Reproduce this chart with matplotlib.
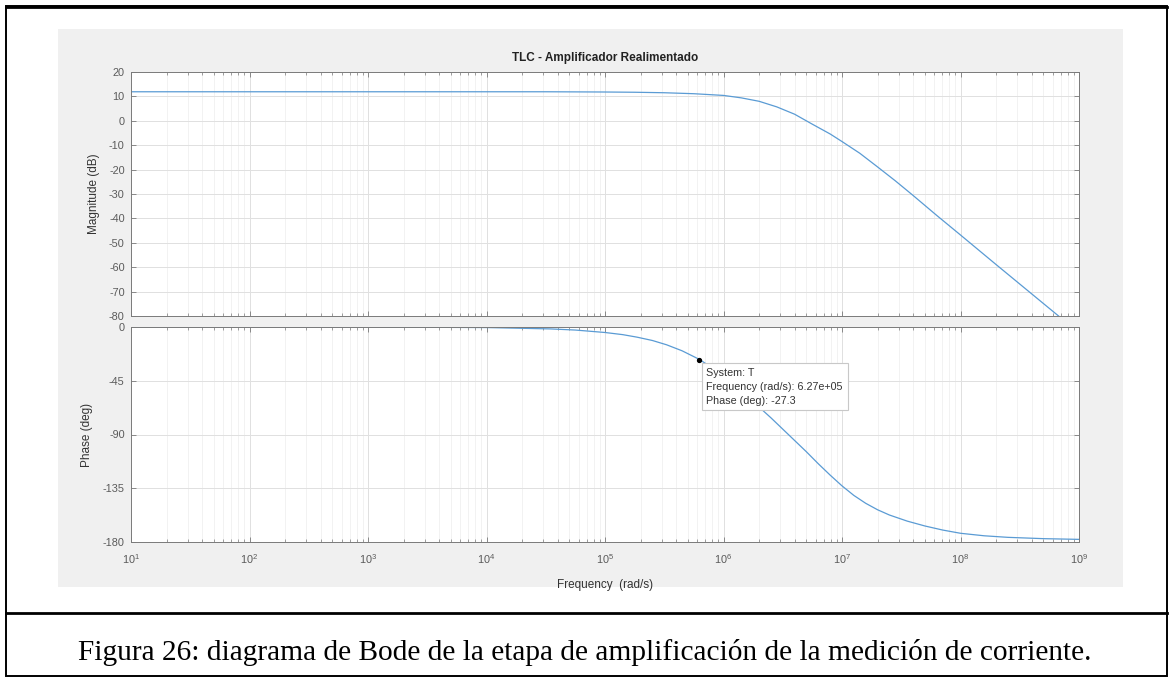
import matplotlib
matplotlib.use('Agg')
import matplotlib.pyplot as plt
import numpy as np
from matplotlib.patches import Rectangle
from matplotlib.lines import Line2D
from matplotlib.ticker import LogLocator, FuncFormatter, NullFormatter

plt.rcParams['font.family'] = ['Liberation Sans', 'DejaVu Sans']
plt.rcParams['mathtext.fontset'] = 'custom'
plt.rcParams['mathtext.rm'] = 'Liberation Sans'
plt.rcParams['mathtext.it'] = 'Liberation Sans:italic'
plt.rcParams['mathtext.bf'] = 'Liberation Sans:bold'
plt.rcParams['axes.unicode_minus'] = False

# ---------------- data ----------------
title = "TLC - Amplificador Realimentado"
caption = "Figura 26: diagrama de Bode de la etapa de amplificación de la medición de corriente."
xlabel = "Frequency  (rad/s)"
mag_label = "Magnitude (dB)"
phase_label = "Phase (deg)"

# log10 of frequency (rad/s) and magnitude (dB)
mag_logw = [1.0, 4.0, 4.5, 5.0, 5.25, 5.5, 5.75, 6.0, 6.15, 6.3, 6.45, 6.6, 6.75,
            6.9, 7.0, 7.15, 7.3, 7.45, 7.6, 7.8, 8.0, 8.3, 8.6, 8.83, 9.0]
mag_db = [11.9, 11.9, 11.9, 11.8, 11.7, 11.5, 11.1, 10.4, 9.4, 8.0, 5.7, 2.7, -1.4,
          -5.4, -8.5, -13.3, -18.9, -24.6, -30.6, -38.8, -46.8, -58.9, -70.9, -80.1, -86.9]

# log10 of frequency (rad/s) and phase (deg)
ph_logw = [1.0, 3.0, 4.0, 4.54, 4.75, 5.0, 5.15, 5.27, 5.4, 5.52, 5.65, 5.8, 5.9,
           6.0, 6.1, 6.2, 6.3, 6.4, 6.5, 6.6, 6.7, 6.8, 6.9, 7.0, 7.1, 7.2, 7.3,
           7.4, 7.55, 7.7, 7.85, 8.0, 8.2, 8.4, 8.7, 9.0]
ph_deg = [0.0, -0.05, -0.45, -1.6, -2.55, -4.6, -6.4, -8.5, -11.3, -14.9, -19.9, -27.3, -34.0,
          -41.0, -49.5, -58.0, -67.0, -76.0, -85.5, -95.0, -104.5, -114.5, -124.0, -133.0, -141.0, -147.6, -153.0,
          -157.4, -162.5, -166.6, -170.0, -172.7, -174.8, -176.1, -177.2, -177.8]

mag_ticks = [20, 10, 0, -10, -20, -30, -40, -50, -60, -70, -80]
ph_ticks = [0, -45, -90, -135, -180]
x_decades = [1, 2, 3, 4, 5, 6, 7, 8, 9]

tip_w = 6.27e5
tip_phase = -27.3
tip_text = "System: T\nFrequency (rad/s): 6.27e+05\nPhase (deg): -27.3"

mag_w = 10.0 ** np.array(mag_logw)
ph_w = 10.0 ** np.array(ph_logw)

# ---------------- layout ----------------
W, H = 1169, 678
fig = plt.figure(figsize=(W / 100, H / 100), dpi=100)
fig.patch.set_facecolor('white')

def fx(x):
    return x / W

def fy(y):
    return 1 - y / H

# document frame
fig.add_artist(Rectangle((fx(6), fy(676)), fx(1167) - fx(6), fy(6) - fy(676),
                         transform=fig.transFigure, fill=False, ec='black', lw=1.4, zorder=5))
fig.add_artist(Line2D([fx(6), fx(1167)], [fy(6.5), fy(6.5)], transform=fig.transFigure,
                      color='black', lw=2.0, zorder=5))
fig.add_artist(Line2D([fx(6), fx(1167)], [fy(613), fy(613)], transform=fig.transFigure,
                      color='black', lw=2.0, zorder=5))

# grey MATLAB figure panel
fig.add_artist(Rectangle((fx(58), fy(587)), fx(1123) - fx(58), fy(29) - fy(587),
                         transform=fig.transFigure, fc='#f0f0f0', ec='none', zorder=-1))

L, R = 131, 1079
ax1 = fig.add_axes([fx(L), fy(316), fx(R) - fx(L), fy(72) - fy(316)])
ax2 = fig.add_axes([fx(L), fy(542), fx(R) - fx(L), fy(327) - fy(542)])

line_color = '#5a9bd4'
spine_color = '#7a7a7a'
label_color = '#5a5a5a'

for ax in (ax1, ax2):
    ax.set_facecolor('white')
    ax.set_xscale('log')
    ax.set_xlim(10.0 ** x_decades[0], 10.0 ** x_decades[-1])
    ax.xaxis.set_major_locator(LogLocator(base=10, numticks=20))
    ax.xaxis.set_minor_locator(LogLocator(base=10, subs=np.arange(2, 10), numticks=20))
    ax.xaxis.set_minor_formatter(NullFormatter())
    ax.grid(which='major', color='#e0e0e0', lw=0.7)
    ax.grid(which='minor', axis='x', color='#f0f0f0', lw=0.6)
    ax.set_axisbelow(True)
    ax.tick_params(which='both', direction='in', top=True, right=True,
                   color=spine_color, labelcolor=label_color, labelsize=7.8)
    ax.tick_params(axis='y', pad=4.5)
    ax.tick_params(axis='x', pad=7)
    ax.tick_params(which='major', length=3.5, width=0.6)
    ax.tick_params(which='minor', length=2.3, width=0.5)
    for s in ax.spines.values():
        s.set_color(spine_color)
        s.set_linewidth(0.7)

ax1.set_ylim(mag_ticks[-1], mag_ticks[0])
ax1.set_yticks(mag_ticks)
ax1.tick_params(labelbottom=False)
ax2.set_ylim(ph_ticks[-1], ph_ticks[0])
ax2.set_yticks(ph_ticks)
ax2.xaxis.set_major_formatter(FuncFormatter(lambda v, p: r'$10^{%d}$' % int(round(np.log10(v)))))

ax1.plot(mag_w, mag_db, color=line_color, lw=0.9)
ax2.plot(ph_w, ph_deg, color=line_color, lw=0.9)

# data tip
ax2.plot([tip_w], [tip_phase], 'o', color='black', ms=2.8, zorder=6, clip_on=False)
ax2.annotate(tip_text, xy=(tip_w, tip_phase), xytext=(7, -8), textcoords='offset pixels',
             ha='left', va='top', fontsize=7.75, color='#333333', linespacing=1.5,
             bbox=dict(boxstyle='square,pad=0.45', fc='white', ec='#c8c8c8', lw=0.8),
             zorder=7)

# labels
ax1.text(0.5, 1 + (72 - 58) / 244, title, transform=ax1.transAxes, ha='center', va='center',
         fontsize=8.5, fontweight='bold', color='#222222')
ax1.set_ylabel(mag_label, fontsize=8.5, color='#333333')
ax1.yaxis.set_label_coords((100 - L) / (R - L), 0.5)
ax2.set_ylabel(phase_label, fontsize=8.5, color='#333333')
ax2.yaxis.set_label_coords((93 - L) / (R - L), 0.5)
ax2.set_xlabel(xlabel, fontsize=8.5, color='#333333')
ax2.xaxis.set_label_coords(0.5, (542 - 578.6) / 215)

fig.text(0.5, fy(652), caption, ha='center', va='center', fontsize=21.2,
         family=['Liberation Serif', 'DejaVu Serif'], color='black')

fig.savefig('out.png', dpi=100)
